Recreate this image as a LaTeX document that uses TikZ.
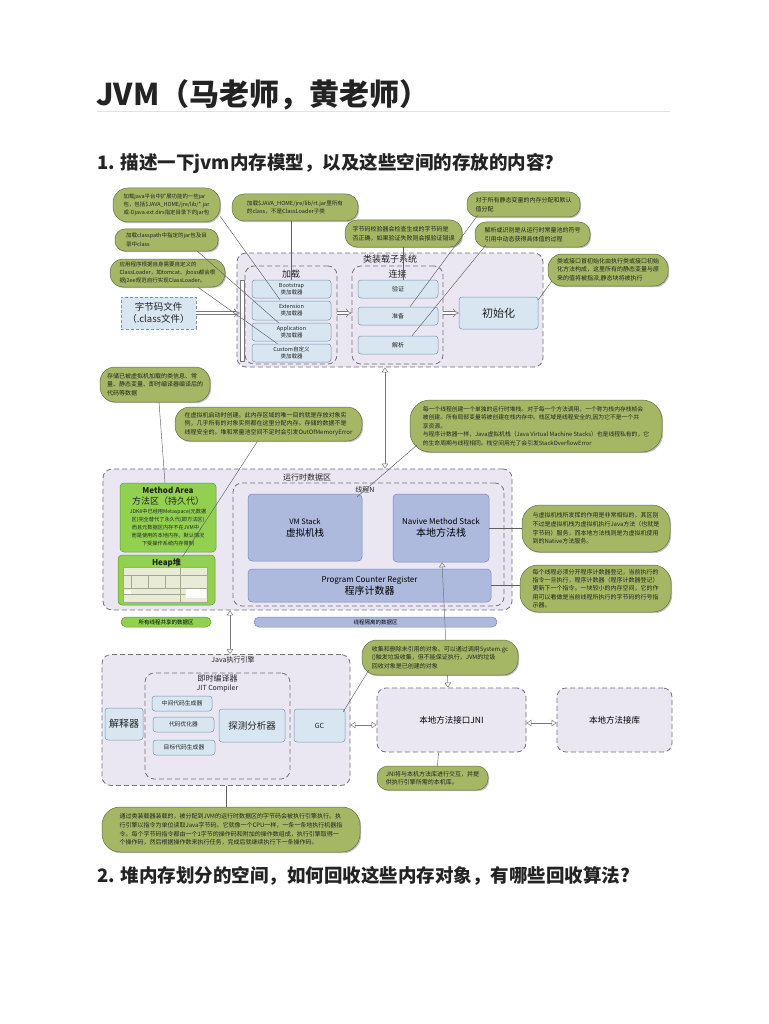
\documentclass[tikz,border=0pt]{standalone}
\usepackage{fontspec}
\setmainfont{Noto Sans CJK SC}
\usetikzlibrary{arrows.meta,shadows,calc}
\definecolor{cfill}{RGB}{165,183,100}
\definecolor{cbord}{RGB}{100,110,75}
\definecolor{lbfill}{RGB}{216,230,241}
\definecolor{lbbord}{RGB}{120,148,178}
\definecolor{lavfill}{RGB}{234,231,243}
\definecolor{lavbord}{RGB}{115,115,125}
\definecolor{stkfill}{RGB}{174,185,222}
\definecolor{stkbord}{RGB}{125,135,175}
\definecolor{grnfill}{RGB}{146,208,80}
\definecolor{grnbord}{RGB}{95,150,55}
\definecolor{linec}{RGB}{95,95,95}
\definecolor{arrc}{RGB}{120,120,120}
\definecolor{txt}{RGB}{35,35,35}
\definecolor{rulec}{RGB}{225,225,225}
\definecolor{tabfill}{RGB}{232,236,214}
\definecolor{tabline}{RGB}{165,168,145}
\tikzset{
  callout/.style={draw=cbord, line width=0.5pt, fill=cfill, rounded corners=12pt, inner sep=0pt, align=left,
    font=\fontsize{6}{8.6}\selectfont, text=txt,
    drop shadow={shadow xshift=1.2pt, shadow yshift=-1.2pt, opacity=0.25, fill=black}},
  lbox/.style={draw=lbbord, line width=0.5pt, fill=lbfill, rounded corners=3pt, inner sep=0pt, align=center, text=txt},
  lav/.style={draw=lavbord, dash pattern=on 5pt off 3pt, line width=0.8pt, fill=lavfill, rounded corners=9pt, inner sep=0pt},
  dbox/.style={draw=lavbord, dash pattern=on 5pt off 3pt, line width=0.8pt, rounded corners=9pt, inner sep=0pt},
  stk/.style={draw=stkbord, line width=0.5pt, fill=stkfill, rounded corners=4pt, inner sep=0pt, align=center, text=black},
  grn/.style={draw=grnbord, line width=0.5pt, fill=grnfill, rounded corners=4pt, inner sep=0pt, align=center, text=black},
  lbl/.style={inner sep=0pt, text=txt, align=center},
  conn/.style={draw=linec, line width=0.45pt},
  hollow/.style={draw=arrc, line width=0.5pt, double=white, double distance=2.6pt, -{Implies}},
  tw/.style={draw=arrc, line width=0.5pt, {Triangle[open,length=5pt,width=6.5pt]}-{Triangle[open,length=5pt,width=6.5pt]}}
}
\begin{document}
\begin{tikzpicture}[x=1pt,y=-1pt]
\useasboundingbox[fill=white] (0,0) rectangle (768,1024);

% ---------- headings ----------
\node[anchor=base west, inner sep=0pt, text=txt, font=\fontsize{30}{32}\selectfont\bfseries] (title) at (96,106) {JVM（马老师，黄老师）};
\draw[draw=rulec, line width=0.7pt] (97,111) -- (670,111);
\node[anchor=base west, inner sep=0pt, text=txt, font=\fontsize{18.5}{20}\selectfont\bfseries] (q1) at (97,170) {1. 描述一下jvm内存模型，以及这些空间的存放的内容？};
\node[anchor=base west, inner sep=0pt, text=txt, font=\fontsize{18.5}{20}\selectfont\bfseries] (q2) at (97,882) {2. 堆内存划分的空间，如何回收这些内存对象，有哪些回收算法?};

% ---------- class loader subsystem ----------
\node[lav, minimum width=306pt, minimum height=114pt] (loader) at (390,310) {};
\node[lbl, font=\fontsize{9}{10}\selectfont] (loaderlbl) at (390,259) {类装载子系统};
\node[dbox, minimum width=92pt, minimum height=98pt] (jz) at (291,315) {};
\node[lbl, font=\fontsize{9}{10}\selectfont] (jzlbl) at (291,274) {加载};
\node[lbox, minimum width=79pt, minimum height=18pt, font=\fontsize{5.5}{7}\selectfont] (boot) at (291.5,289) {Bootstrap\\类加载器};
\node[lbox, minimum width=79pt, minimum height=19pt, font=\fontsize{5.5}{7}\selectfont] (ext) at (291.5,310.5) {Extension\\类加载器};
\node[lbox, minimum width=79pt, minimum height=18pt, font=\fontsize{5.5}{7}\selectfont] (app) at (291.5,332) {Application\\类加载器};
\node[lbox, minimum width=79pt, minimum height=18pt, font=\fontsize{5.5}{7}\selectfont] (cust) at (291.5,353) {Custom自定义\\类加载器};
\node[dbox, minimum width=91pt, minimum height=98pt] (lj) at (397.5,315) {};
\node[lbl, font=\fontsize{9}{10}\selectfont] (ljlbl) at (397.5,274) {连接};
\node[lbox, minimum width=80pt, minimum height=18pt, font=\fontsize{6}{7}\selectfont] (ver) at (398,289) {验证};
\node[lbox, minimum width=80pt, minimum height=18pt, font=\fontsize{6}{7}\selectfont] (prep) at (398,316) {准备};
\node[lbox, minimum width=80pt, minimum height=18pt, font=\fontsize{6}{7}\selectfont] (res) at (398,345) {解析};
\node[lbox, minimum width=79pt, minimum height=32pt, font=\fontsize{11}{12}\selectfont] (init) at (498.5,313) {初始化};
\node[lbox, dash pattern=on 3pt off 2pt, rounded corners=0pt, minimum width=75pt, minimum height=32pt, font=\fontsize{9.5}{12}\selectfont] (file) at (158.5,313) {字节码文件\\（.class文件）};
\node[draw=arrc, fill=white, line width=0.5pt, inner sep=0pt, minimum width=4pt, minimum height=81pt] (bar) at (242,320.5) {};

\draw[hollow] (file.east) -- (file.east -| bar.west);
\draw[hollow] ($(jz.east)+(0,-2)$) -- ($(lj.west)+(0,-2)$);
\draw[hollow] ($(lj.east)+(0,-2)$) -- (init.west);

% ---------- runtime data area ----------
\node[lav, minimum width=409pt, minimum height=141pt] (rt) at (307.5,539.5) {};
\node[lbl, font=\fontsize{8}{9}\selectfont] (rtlbl) at (307,477) {运行时数据区};
\node[grn, minimum width=96pt, minimum height=69pt] (ma) at (168,517.5) {};
\node[lbl, font=\fontsize{8}{9}\selectfont\bfseries] (malbl) at (168,490) {Method Area};
\node[lbl, font=\fontsize{9}{10}\selectfont] (malbl2) at (168,501.5) {方法区（持久代）};
\node[lbl, font=\fontsize{5.2}{8}\selectfont] (matxt) at (168,528) {JDK8中已经用Metaspace(元数据\\区)完全替代了永久代(即方法区)\\而且元数据区内存不在JVM中，\\而是使用的本地内存。默认情况\\下受操作系统内存限制};
\node[grn, minimum width=97pt, minimum height=50pt] (heap) at (166.5,580) {};
\node[lbl, font=\fontsize{8}{9}\selectfont\bfseries] (heaplbl) at (166.5,563) {Heap堆};
\fill[tabfill] (123,567) rectangle (207,602);
\draw[draw=tabline, line width=0.3pt] (123,567) rectangle (207,602);
\draw[draw=tabline, line width=0.3pt] (123,575) -- (207,575) (123,588) -- (207,588) (123,594) -- (185,594)
  (180,567) -- (180,602) (131,575) -- (131,588) (148,575) -- (148,588) (165,575) -- (165,588);
\fill[white] (124,589.5) rectangle (131,593.5);
\fill[white] (186,589) rectangle (206,598);
\node[dbox, minimum width=271pt, minimum height=123pt] (thr) at (368.5,544.5) {};
\node[lbl, font=\fontsize{7}{8}\selectfont] (thrlbl) at (365,490) {线程N};
\node[stk, minimum width=114pt, minimum height=67pt] (vm) at (305,527.5) {{\fontsize{7.5}{9}\selectfont VM Stack}\\{\fontsize{9.5}{11}\selectfont 虚拟机栈}};
\node[stk, minimum width=96pt, minimum height=68pt] (nat) at (441,528) {{\fontsize{8}{9.5}\selectfont Navive Method Stack}\\{\fontsize{10}{11.5}\selectfont 本地方法栈}};
\node[stk, minimum width=243pt, minimum height=33pt] (pc) at (369.5,585.5) {{\fontsize{8}{9.5}\selectfont Program Counter Register}\\{\fontsize{10}{11.5}\selectfont 程序计数器}};
\node[grn, rounded corners=5pt, minimum width=90pt, minimum height=10pt, font=\fontsize{5.5}{6}\selectfont] (shared) at (166,622) {所有线程共享的数据区};
\node[stk, rounded corners=5pt, minimum width=243pt, minimum height=10pt, font=\fontsize{5.5}{6}\selectfont] (iso) at (375.5,622) {线程隔离的数据区};

% ---------- execution engine ----------
\node[lav, minimum width=248pt, minimum height=131pt] (exec) at (226,720) {};
\node[lbl, font=\fontsize{7}{8}\selectfont] (execlbl) at (233,660) {Java执行引擎};
\node[dbox, minimum width=145pt, minimum height=106pt] (jit) at (217.5,726) {};
\node[lbl, font=\fontsize{8}{9}\selectfont] (jitlbl) at (217.5,678) {即时编译器};
\node[lbl, font=\fontsize{7}{8}\selectfont] (jitlbl2) at (217.5,689) {JIT Compiler};
\node[lbox, minimum width=38pt, minimum height=32pt, font=\fontsize{10}{11}\selectfont] (interp) at (124,724) {解释器};
\node[lbox, minimum width=60pt, minimum height=15pt, font=\fontsize{5.8}{7}\selectfont] (mid) at (182,703.5) {中间代码生成器};
\node[lbox, minimum width=61pt, minimum height=15pt, font=\fontsize{5.8}{7}\selectfont] (opt) at (183.5,724.5) {代码优化器};
\node[lbox, minimum width=62pt, minimum height=15pt, font=\fontsize{5.8}{7}\selectfont] (tgt) at (184,747.5) {目标代码生成器};
\node[lbox, minimum width=66pt, minimum height=33pt, font=\fontsize{9.5}{11}\selectfont] (prob) at (252,725.5) {探测分析器};
\node[lbox, minimum width=51pt, minimum height=33pt, font=\fontsize{7}{8}\selectfont] (gc) at (319.5,725.5) {GC};
\node[lav, minimum width=149pt, minimum height=64pt, font=\fontsize{8.5}{10}\selectfont] (jni) at (451.5,720) {本地方法接口JNI};
\node[lav, minimum width=115pt, minimum height=64pt, font=\fontsize{8.5}{10}\selectfont] (lib) at (614.5,720) {本地方法接库};

% ---------- thin arrows ----------
\draw[tw] ($(loader.south)+(-5,0)$) -- ($(rt.north)+(77.5,0)$);
\draw[tw] ($(rt.south)+(-77.5,0)$) -- ($(exec.north)+(4,0)$);
\draw[tw] ($(jni.north)+(-3.5,0)$) -- ($(nat.south)+(1,0)$);
\draw[tw] ($(exec.east)+(0,5)$) -- ($(jni.west)+(0,5)$);
\draw[tw] ($(jni.east)+(0,3)$) -- ($(lib.west)+(0,3)$);

% ---------- callouts ----------
\node[callout, rounded corners=15pt, font=\fontsize{5.4}{8.2}\selectfont, minimum width=107pt, minimum height=34pt] (c1) at (166.5,205) {加载java平台中扩展功能的一些jar\\包，包括\$JAVA\_HOME/jre/lib/*.jar\\或-Djava.ext.dirs指定目录下的jar包};
\node[callout, font=\fontsize{5.6}{8.6}\selectfont, minimum width=126pt, minimum height=27pt] (c2) at (295,207.5) {加载\$JAVA\_HOME/jre/lib/rt.jar里所有\\的class，不是ClassLoader子类};
\node[callout, rounded corners=10pt, font=\fontsize{5.5}{8.4}\selectfont, minimum width=103pt, minimum height=22pt] (c3) at (166.5,240) {加载classpath中指定的jar包及目\\录中class};
\node[callout, rounded corners=13pt, font=\fontsize{5.5}{8.2}\selectfont, minimum width=115pt, minimum height=28pt] (c4) at (167.5,273) {应用程序根据自身需要自定义的\\ClassLoader，如tomcat、jboss都会根\\据j2ee规范自行实现ClassLoader。};
\node[callout, minimum width=117pt, minimum height=27pt] (c5) at (403.5,233.5) {字节码校验器会检查生成的字节码是\\否正确，如果验证失败则会报验证错误};
\node[callout, rounded corners=11pt, minimum width=113pt, minimum height=25pt] (c6) at (523.5,204.5) {对于所有静态变量的内存分配和默认\\值分配};
\node[callout, rounded corners=11pt, minimum width=115pt, minimum height=25pt] (c7) at (532.5,234.5) {解析或识别是从运行时常量池的符号\\引用中动态获得具体值的过程};
\node[callout, rounded corners=14pt, font=\fontsize{6}{8.4}\selectfont, minimum width=120pt, minimum height=32pt] (c8) at (608,270) {类或接口首初始化由执行类或接口初始\\化方法构成，这里所有的静态变量与原\\来的值将被指派,静态块将被执行};
\node[callout, rounded corners=15pt, font=\fontsize{6}{8.4}\selectfont, minimum width=110pt, minimum height=35pt] (c9) at (155,384.5) {存储已被虚拟机加载的类信息、常\\量、静态变量、即时编译器编译后的\\代码等数据};
\node[callout, rounded corners=15pt, font=\fontsize{6}{8.6}\selectfont, minimum width=187pt, minimum height=34pt] (c10) at (268.5,424) {在虚拟机启动时创建。此内存区域的唯一目的就是存放对象实\\例，几乎所有的对象实例都在这里分配内存。存储的数据不是\\线程安全的。堆和常量池空间不足时会引发OutOfMemoryError};
\node[callout, rounded corners=20pt, font=\fontsize{5.8}{8.6}\selectfont, minimum width=252pt, minimum height=52pt] (c11) at (536,426) {每一个线程创建一个单独的运行时堆栈。对于每一个方法调用，一个称为栈内存栈帧会\\被创建。所有局部变量将被创建在栈内存中。栈区域是线程安全的,因为它不是一个共\\享资源。\\与程序计数器一样，Java虚拟机栈（Java Virtual Machine Stacks）也是线程私有的，它\\的生命周期与线程相同。栈空间用光了会引发StackOverflowError};
\node[callout, rounded corners=18pt, minimum width=148pt, minimum height=47pt] (c12) at (596,528.5) {与虚拟机栈所发挥的作用是非常相似的，其区别\\不过是虚拟机栈为虚拟机执行Java方法（也就是\\字节码）服务，而本地方法栈则是为虚拟机使用\\到的Native方法服务。};
\node[callout, rounded corners=18pt, font=\fontsize{6}{8.3}\selectfont, minimum width=151pt, minimum height=47pt] (c13) at (595.5,588.5) {每个线程必须分开程序计数器登记，当前执行的\\指令一旦执行，程序计数器（程序计数器登记）\\更新下一个指令。一块较小的内存空间，它的作\\用可以看做是当前线程所执行的字节码的行号指\\示器。};
\node[callout, rounded corners=15pt, minimum width=156pt, minimum height=35pt] (c14) at (440,657.5) {收集和删除未引用的对象。可以通过调用System.gc\\()触发垃圾收集，但不能保证执行，JVM的垃圾\\回收对象是已创建的对象};
\node[callout, rounded corners=11pt, minimum width=111pt, minimum height=24pt] (c15) at (432.5,778) {JNI将与本机方法库进行交互，并提\\供执行引擎所需的本机库。};
\node[callout, rounded corners=18pt, minimum width=258pt, minimum height=45pt] (c16) at (231,829.5) {通过类装载器装载的，被分配到JVM的运行时数据区的字节码会被执行引擎执行。执\\行引擎以指令为单位读取Java字节码。它就像一个CPU一样，一条一条地执行机器指\\令。每个字节码指令都由一个1字节的操作码和附加的操作数组成，执行引擎取得一\\个操作码，然后根据操作数来执行任务，完成后就继续执行下一条操作码。};

% ---------- connectors ----------
\draw[conn] (c2.south -| boot.north) -- (boot.north);
\draw[conn] (c1.-12) -- ($(ext.north)+(-11.5,-1)$);
\draw[conn] (c3.-20) -- ($(app.north)+(-13,0)$);
\draw[conn] (c4.-25) -- ($(cust.north)+(-14,0)$);
\draw[conn] (c5.south) -- (c5.south |- ver.north);
\draw[conn] ($(c6.south west)+(11,-2)$) -- ($(prep.north)+(12,0)$);
\draw[conn] ($(c7.south west)+(11,-2)$) -- ($(res.north)+(14,0)$);
\draw[conn] ($(c8.south west)+(4,-5)$) -- ($(init.north east)+(0,3)$);
\draw[conn] ($(c9.south)+(4,0)$) -- ($(ma.north)+(-3,0)$);
\draw[conn] ($(c10.south)+(-11,0)$) -- ($(heap.north)+(16,2)$);
\draw[conn] ($(c11.south west)+(7,-7)$) -- ($(vm.north east)+(-5,3)$);
\draw[conn] (nat.east) -- (c12.west |- nat.east);
\draw[conn] (pc.east) -- (c13.west |- pc.east);
\draw[conn] ($(c14.south west)+(7,-5)$) -- ($(gc.north east)+(-2,3)$);
\draw[conn] ($(jni.south)+(-13,0)$) -- ($(c15.north)+(5,0)$);
\draw[conn] (exec.south) -- (exec.south |- c16.north);
\end{tikzpicture}
\end{document}
